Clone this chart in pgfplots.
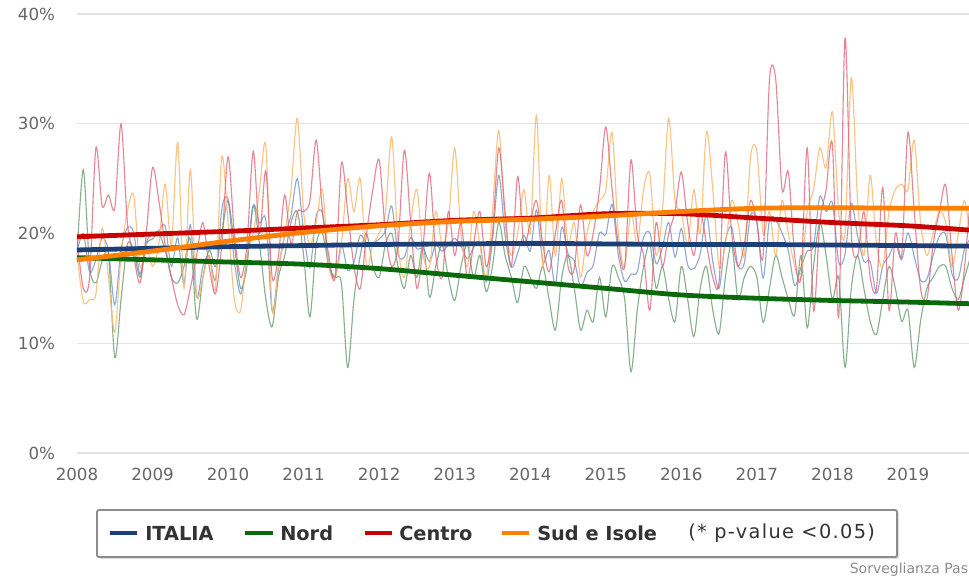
\documentclass[border=0pt]{standalone}
\usepackage{pgfplots}
\pgfplotsset{compat=1.18}
\usepackage{pgfplotstable}
\usepackage{fontspec}
\setmainfont{DejaVu Sans}
\definecolor{itD}{RGB}{28,64,118}
\definecolor{noD}{RGB}{10,105,10}
\definecolor{ceD}{RGB}{200,0,0}
\definecolor{suD}{RGB}{255,128,0}
\definecolor{itL}{RGB}{110,140,195}
\definecolor{noL}{RGB}{95,150,105}
\definecolor{ceL}{RGB}{220,95,115}
\definecolor{suL}{RGB}{250,185,110}
\definecolor{tickc}{RGB}{102,102,102}
\pgfplotstableread{
m it no ce su
0 18.3 18 19.5 18
1 20 25.8 15 13.8
2 16.5 17 16 14
3 17.6 15.5 27.8 14.5
4 19.6 17.5 22.5 20.5
5 18.4 18 23.5 16
6 13.5 8.7 22.3 11
7 18.6 14 30 18
8 20.5 19 21 22
9 20.1 18.5 18 23.5
10 16.3 16 15.5 17
11 19.2 19 20 19
12 20 19.5 26 17
13 20.25 20 23 19
14 20.7 18.5 19 24.5
15 17 16 16 19
16 19.6 15.5 13.5 28.3
17 15.4 17 12.6 15
18 20.8 19.5 15 25.8
19 14.2 12.2 18 14.5
20 17 16 21 16
21 18 18.5 17 18
22 15.8 17 14.5 15
23 22.2 20 19 27
24 23.1 23 27 21
25 17.45 19 20 14
26 14.5 15 16 13
27 17.75 17 19 18
28 22.6 22.5 27.5 20
29 20.95 19 20 24
30 21.2 14 25.7 28
31 12.95 11.5 16 13
32 16.75 16 18 17
33 19.8 18 23.5 20
34 21.65 21 19 24
35 25 22 22 30.5
36 20.2 18 22 22
37 16.85 12.4 23 19
38 21.6 19 28.5 21
39 21.8 20 22 24
40 17.2 17 18 17
41 16 16 16 16
42 18.95 15.5 26.4 19
43 16.65 7.8 22 25
44 17.4 14 17 22
45 19.85 18 15 25
46 18.95 20 20 17
47 19.1 17 24 19
48 19.5 16 26.7 20
49 20.25 19 20 22
50 22.5 20 17 28.8
51 18.1 17 19 19
52 17.85 15 27.6 16
53 19.65 18 21 21
54 18.6 16 15 24
55 18.65 19 19 18
56 17.45 14.2 25.5 17
57 18.95 17 18 22
58 18.4 19 16 19
59 18.95 16 22 21
60 19.55 13.9 18 27.8
61 18.85 17 21 20
62 17.7 19 16 17
63 18.7 16 19 22
64 19.15 18 22 19
65 15.6 14.7 17 16
66 19.35 17 20 22
67 25.3 21 27.8 29.4
68 19.85 18 22 21
69 16.9 16 17 18
70 18.2 13.7 25.2 20
71 19.85 17 19 24
72 18.4 16 21 20
73 22.15 15 23 30.8
74 17.4 17 19 17
75 18.45 14 16.5 25.3
76 15.35 11.2 20 18
77 20.55 16 23 25
78 18.15 18 17 19
79 17.5 15 16.8 21
80 15.15 11.2 22.6 16
81 16.45 13 18 20
82 17.1 12 20 22
83 20.05 16 24 23
84 19.9 12.4 29.7 24
85 22.65 17 24 29.2
86 18 16 19 20
87 15.65 14 17 17
88 16.3 7.4 26.7 22
89 16.5 13 20 19
90 19.65 17 18 24
91 20.05 19 13 25.4
92 17.25 15 21 18
93 18.75 17 17 22
94 21 14 20 30.5
95 17.85 12 22 23
96 20.45 17 25.6 22
97 17.15 14 21 19
98 16.8 10.6 18 24
99 18.15 15 22 20
100 21.7 17 19 29.3
101 17.45 13 16 24
102 15 10.9 15.6 17
103 19.35 16 27.4 19
104 20.6 19 20 23
105 17.05 14 17 21
106 17.3 16 19 18
107 21.7 17 23 27
108 21 16 21 27.5
109 15.95 11.9 18 20
110 21.25 15 34 22
111 21.2 18 34 18
112 20.05 16 24 23
113 18.4 14 25.6 20
114 15.25 12.6 18 17
115 16.9 18 16 16
116 18.4 11.4 27.8 22
117 18.85 17 13 24
118 23.35 21 21 27.8
119 22 18 24 26
120 22.8 14 28.1 31.1
121 17.4 16 12.4 22
122 18.1 7.8 37.8 20
123 22.75 15 20 34.2
124 19.75 18 18 23
125 17.45 15 22 18
126 17.45 12 16 25.3
127 14.55 10.8 15 19
128 17.05 14 24.2 17
129 17.95 17 13 22
130 19.15 15 20 24
131 17.6 12 18 24.5
132 20.05 13 29.2 24
133 17.9 7.8 22 28.5
134 15.75 12 15 21
135 15.85 15 14 18
136 18 16 19 20
137 19.75 17 22 22
138 19.9 17 24.4 21
139 16.3 15 18 17
140 15.9 14 13 20
141 18.65 16 17 23
142 19.55 18 24 19
}\monthly
\pgfplotstableread{
m it no ce su
0 18.5 17.8 19.7 17.6
12 18.65 17.6 19.95 18.4
24 18.8 17.4 20.2 19.3
36 18.9 17.2 20.5 20.1
48 19.0 16.8 20.8 20.7
60 19.05 16.2 21.2 21.1
72 19.1 15.6 21.4 21.3
84 19.05 15.0 21.8 21.6
96 19.0 14.4 21.8 22.0
108 19.0 14.1 21.4 22.3
120 18.95 13.9 21.0 22.35
132 18.9 13.75 20.7 22.3
142 18.85 13.6 20.3 22.3
}\trend
\begin{document}
\begin{tikzpicture}
\useasboundingbox (-57.75pt,-96.75pt) rectangle (669pt,339.75pt);
\begin{axis}[
  at={(0pt,0pt)}, anchor=south west,
  scale only axis, width=669pt, height=329.25pt,
  xmin=0, xmax=141.7, ymin=0, ymax=40,
  axis line style={draw=none},
  tick style={draw=none},
  ymajorgrids, grid style={draw=black!11, line width=0.8pt},
  ytick={0,10,20,30,40},
  yticklabel={\pgfmathprintnumber{\tick}\%},
  xtick={0,12,24,36,48,60,72,84,96,108,120,132},
  xticklabels={2008,2009,2010,2011,2012,2013,2014,2015,2016,2017,2018,2019},
  /pgf/number format/assume math mode=true,
  ticklabel style={font=\fontsize{12.5}{14}\selectfont, text=tickc},
  yticklabel style={xshift=-13pt},
  xticklabel style={yshift=-8pt},
  every axis plot/.append style={smooth, tension=0.5},
]
\addplot[noL, line width=0.85pt, opacity=0.75] table[x=m, y=no] {\monthly};
\addplot[itL, line width=0.85pt, opacity=0.75] table[x=m, y=it] {\monthly};
\addplot[suL, line width=0.85pt, opacity=0.85] table[x=m, y=su] {\monthly};
\addplot[ceL, line width=0.85pt, opacity=0.75] table[x=m, y=ce] {\monthly};
\addplot[noD, line width=3.6pt] table[x=m, y=no] {\trend};
\addplot[itD, line width=3.6pt] table[x=m, y=it] {\trend};
\addplot[ceD, line width=3.6pt] table[x=m, y=ce] {\trend};
\addplot[suD, line width=3.6pt] table[x=m, y=su] {\trend};
\end{axis}
% legend box
\fill[black!12, rounded corners=1.5pt] (16.5pt,-44.25pt) rectangle (616.5pt,-79.5pt);
\draw[black!45, fill=white, line width=1.4pt, rounded corners=1.5pt] (15pt,-42.75pt) rectangle (615pt,-78pt);
\begin{scope}[font=\fontsize{14.5}{17}\selectfont\bfseries, text=black!80]
\draw[itD, line width=3pt] (24.75pt,-60pt) -- (45pt,-60pt);
\node[anchor=west, inner sep=0pt] at (51pt,-60pt) {ITALIA};
\draw[noD, line width=3pt] (126pt,-60pt) -- (147pt,-60pt);
\node[anchor=west, inner sep=0pt] at (152.25pt,-60pt) {Nord};
\draw[ceD, line width=3pt] (216pt,-60pt) -- (236.25pt,-60pt);
\node[anchor=west, inner sep=0pt] at (241.5pt,-60pt) {Centro};
\draw[suD, line width=3pt] (318.75pt,-60pt) -- (339pt,-60pt);
\node[anchor=west, inner sep=0pt] at (345pt,-60pt) {Sud e Isole};
\end{scope}
\node[anchor=west, inner sep=0pt, font=\fontsize{14.5}{17}\selectfont\addfontfeatures{LetterSpace=7}, text=black!80] at (458.25pt,-60pt) {(* p-value <0.05)};
\node[anchor=east, inner sep=0pt, font=\fontsize{10.5}{12}\selectfont, text=black!45] at (668.5pt,-87.75pt) {Sorveglianza Pas};
\end{tikzpicture}
\end{document}
